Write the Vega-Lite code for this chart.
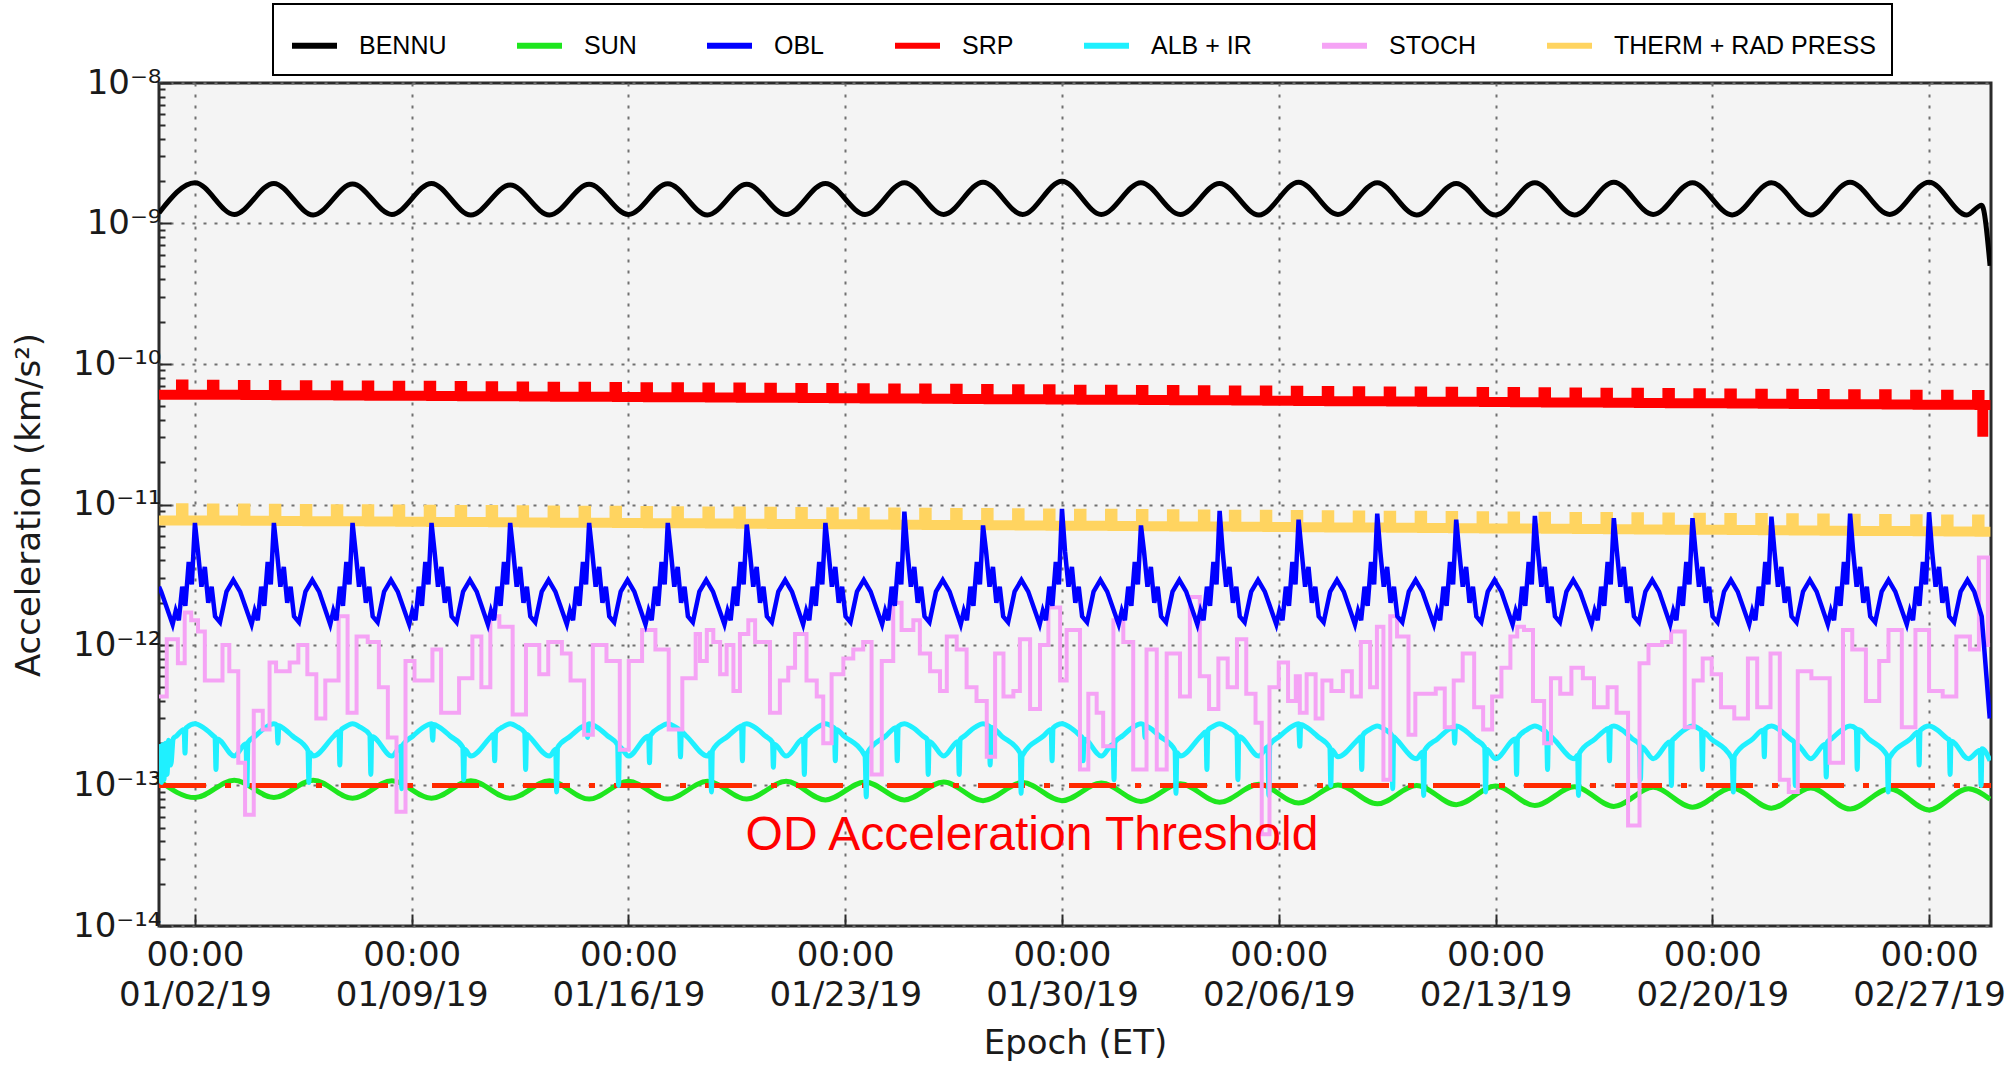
{
"$schema":"https://vega.github.io/schema/vega-lite/v6.json",
"width":1832,"height":843,
"autosize":{"type":"none"},
"padding":{"left":159,"top":83,"right":19,"bottom":141},
"background":"#ffffff",
"config":{
"view":{"fill":"#f4f4f4","stroke":"#2b2b2b","strokeWidth":3},
"axis":{"domain":false,"labelFont":"DejaVu Sans","titleFont":"DejaVu Sans","labelColor":"#1a1a1a","titleColor":"#1a1a1a","titleFontWeight":"normal","labelFontSize":34,"titleFontSize":34,"gridColor":"#707070","gridDash":[3,8],"gridWidth":2,"tickColor":"#2b2b2b","tickWidth":2,"labelOverlap":false},
"legend":{"strokeWidth":2}
},
"encoding":{
"x":{"field":"d","type":"quantitative","scale":{"domain":[-0.16,59],"nice":false,"zero":false},
"axis":{"title":"Epoch (ET)","values":[1,8,15,22,29,36,43,50,57],"labelExpr":"['00:00', utcFormat(utc(2019,0,1+datum.value),'%m/%d/%y')]","labelLineHeight":40,"labelPadding":24,"tickSize":-12,"titlePadding":14,"labelFlush":false}},
"y":{"field":"v","type":"quantitative","scale":{"type":"log","domain":[1e-14,1e-8],"nice":false},
"axis":{"title":"Acceleration (km/s²)","values":[1e-14,2e-14,3e-14,4e-14,5e-14,6e-14,7e-14,8e-14,9e-14,1e-13,2e-13,3e-13,4e-13,5e-13,6e-13,7e-13,8e-13,9e-13,1e-12,2e-12,3e-12,4e-12,5e-12,6e-12,7e-12,8e-12,9e-12,1e-11,2e-11,3e-11,4e-11,5e-11,6e-11,7e-11,8e-11,9e-11,1e-10,2e-10,3e-10,4e-10,5e-10,6e-10,7e-10,8e-10,9e-10,1e-9,2e-9,3e-9,4e-9,5e-9,6e-9,7e-9,8e-9,9e-9,1e-8],
"labelExpr":"abs(log(datum.value)/LN10 - round(log(datum.value)/LN10)) < 0.01 ? '10' + ['⁻¹⁴','⁻¹³','⁻¹²','⁻¹¹','⁻¹⁰','⁻⁹','⁻⁸'][round(log(datum.value)/LN10)+14] : ''",
"tickSize":{"condition":{"test":"abs(log(datum.value)/LN10 - round(log(datum.value)/LN10)) < 0.01","value":-12},"value":-6},
"gridOpacity":{"condition":{"test":"abs(log(datum.value)/LN10 - round(log(datum.value)/LN10)) < 0.01","value":1},"value":0},
"labelPadding":10,"titlePadding":26}}
},
"datasets":{
"bennu":[{"d":-0.16,"v":1.19e-9},{"d":1,"v":1.95e-9},{"d":2.27,"v":1.16e-9},{"d":3.55,"v":1.93e-9},{"d":4.82,"v":1.15e-9},{"d":6.09,"v":1.91e-9},{"d":7.36,"v":1.16e-9},{"d":8.64,"v":1.93e-9},{"d":9.91,"v":1.15e-9},{"d":11.18,"v":1.88e-9},{"d":12.45,"v":1.15e-9},{"d":13.73,"v":1.9e-9},{"d":15,"v":1.16e-9},{"d":16.27,"v":1.92e-9},{"d":17.55,"v":1.15e-9},{"d":18.82,"v":1.9e-9},{"d":20.09,"v":1.16e-9},{"d":21.36,"v":1.93e-9},{"d":22.64,"v":1.16e-9},{"d":23.91,"v":1.95e-9},{"d":25.18,"v":1.16e-9},{"d":26.45,"v":1.97e-9},{"d":27.73,"v":1.16e-9},{"d":29,"v":2e-9},{"d":30.27,"v":1.16e-9},{"d":31.55,"v":1.95e-9},{"d":32.82,"v":1.16e-9},{"d":34.09,"v":1.93e-9},{"d":35.36,"v":1.15e-9},{"d":36.64,"v":1.97e-9},{"d":37.91,"v":1.16e-9},{"d":39.18,"v":1.95e-9},{"d":40.45,"v":1.15e-9},{"d":41.73,"v":1.93e-9},{"d":43,"v":1.15e-9},{"d":44.27,"v":1.95e-9},{"d":45.55,"v":1.15e-9},{"d":46.82,"v":1.97e-9},{"d":48.09,"v":1.16e-9},{"d":49.36,"v":1.95e-9},{"d":50.64,"v":1.15e-9},{"d":51.91,"v":1.95e-9},{"d":53.18,"v":1.15e-9},{"d":54.45,"v":1.97e-9},{"d":55.73,"v":1.16e-9},{"d":57,"v":1.97e-9},{"d":58.22,"v":1.15e-9},{"d":58.7,"v":1.35e-9},{"d":58.97,"v":5e-10}],
"sun":[{"d":-0.16,"v":1.08e-13},{"d":1,"v":8.2e-14},{"d":2.27,"v":1.09e-13},{"d":3.55,"v":8.2e-14},{"d":4.82,"v":1.09e-13},{"d":6.09,"v":8.1e-14},{"d":7.36,"v":1.08e-13},{"d":8.64,"v":8.1e-14},{"d":9.91,"v":1.08e-13},{"d":11.18,"v":8.1e-14},{"d":12.45,"v":1.08e-13},{"d":13.73,"v":8e-14},{"d":15,"v":1.07e-13},{"d":16.27,"v":8e-14},{"d":17.55,"v":1.07e-13},{"d":18.82,"v":8e-14},{"d":20.09,"v":1.07e-13},{"d":21.36,"v":7.9e-14},{"d":22.64,"v":1.06e-13},{"d":23.91,"v":7.9e-14},{"d":25.18,"v":1.06e-13},{"d":26.45,"v":7.8e-14},{"d":27.73,"v":1.05e-13},{"d":29,"v":7.8e-14},{"d":30.27,"v":1.04e-13},{"d":31.55,"v":7.7e-14},{"d":32.82,"v":1.03e-13},{"d":34.09,"v":7.6e-14},{"d":35.36,"v":1.02e-13},{"d":36.64,"v":7.5e-14},{"d":37.91,"v":1.01e-13},{"d":39.18,"v":7.4e-14},{"d":40.45,"v":1e-13},{"d":41.73,"v":7.3e-14},{"d":43,"v":9.9e-14},{"d":44.27,"v":7.2e-14},{"d":45.55,"v":9.8e-14},{"d":46.82,"v":7.1e-14},{"d":48.09,"v":9.7e-14},{"d":49.36,"v":7e-14},{"d":50.64,"v":9.6e-14},{"d":51.91,"v":6.9e-14},{"d":53.18,"v":9.6e-14},{"d":54.45,"v":6.8e-14},{"d":55.73,"v":9.5e-14},{"d":57,"v":6.7e-14},{"d":58.27,"v":9.5e-14},{"d":58.97,"v":8e-14}],
"obl":[{"d":-0.16,"v":2.6e-12},{"d":-0.09,"v":2.4e-12},
{"d":0.28,"v":1.4e-12},{"d":0.38,"v":1.75e-12},{"d":0.48,"v":1.5e-12},{"d":0.59,"v":2.6e-12},{"d":0.69,"v":1.9e-12},{"d":0.8,"v":3.9e-12},{"d":0.9,"v":2.7e-12},{"d":1,"v":7.4e-12},{"d":1.1,"v":4.6e-12},{"d":1.21,"v":2.6e-12},{"d":1.32,"v":3.6e-12},{"d":1.43,"v":2e-12},{"d":1.54,"v":2.6e-12},{"d":1.65,"v":1.6e-12},{"d":1.81,"v":1.45e-12},{"d":2.02,"v":2.4e-12},{"d":2.24,"v":2.9e-12},{"d":2.46,"v":2.4e-12},
{"d":2.83,"v":1.4e-12},{"d":2.93,"v":1.75e-12},{"d":3.03,"v":1.5e-12},{"d":3.14,"v":2.6e-12},{"d":3.24,"v":1.9e-12},{"d":3.35,"v":3.9e-12},{"d":3.45,"v":2.7e-12},{"d":3.55,"v":7.4e-12},{"d":3.65,"v":4.6e-12},{"d":3.76,"v":2.6e-12},{"d":3.87,"v":3.6e-12},{"d":3.98,"v":2e-12},{"d":4.09,"v":2.6e-12},{"d":4.2,"v":1.6e-12},{"d":4.36,"v":1.45e-12},{"d":4.57,"v":2.4e-12},{"d":4.79,"v":2.9e-12},{"d":5.01,"v":2.4e-12},
{"d":5.37,"v":1.4e-12},{"d":5.47,"v":1.75e-12},{"d":5.57,"v":1.5e-12},{"d":5.68,"v":2.6e-12},{"d":5.78,"v":1.9e-12},{"d":5.89,"v":3.9e-12},{"d":5.99,"v":2.7e-12},{"d":6.09,"v":7.4e-12},{"d":6.19,"v":4.6e-12},{"d":6.3,"v":2.6e-12},{"d":6.41,"v":3.6e-12},{"d":6.52,"v":2e-12},{"d":6.63,"v":2.6e-12},{"d":6.74,"v":1.6e-12},{"d":6.9,"v":1.45e-12},{"d":7.11,"v":2.4e-12},{"d":7.33,"v":2.9e-12},{"d":7.55,"v":2.4e-12},
{"d":7.92,"v":1.4e-12},{"d":8.02,"v":1.75e-12},{"d":8.12,"v":1.5e-12},{"d":8.23,"v":2.6e-12},{"d":8.33,"v":1.9e-12},{"d":8.44,"v":3.9e-12},{"d":8.54,"v":2.7e-12},{"d":8.64,"v":7.4e-12},{"d":8.74,"v":4.6e-12},{"d":8.85,"v":2.6e-12},{"d":8.96,"v":3.6e-12},{"d":9.07,"v":2e-12},{"d":9.18,"v":2.6e-12},{"d":9.29,"v":1.6e-12},{"d":9.45,"v":1.45e-12},{"d":9.66,"v":2.4e-12},{"d":9.88,"v":2.9e-12},{"d":10.1,"v":2.4e-12},
{"d":10.46,"v":1.4e-12},{"d":10.56,"v":1.75e-12},{"d":10.66,"v":1.5e-12},{"d":10.77,"v":2.6e-12},{"d":10.87,"v":1.9e-12},{"d":10.98,"v":3.9e-12},{"d":11.08,"v":2.7e-12},{"d":11.18,"v":7.4e-12},{"d":11.28,"v":4.6e-12},{"d":11.39,"v":2.6e-12},{"d":11.5,"v":3.6e-12},{"d":11.61,"v":2e-12},{"d":11.72,"v":2.6e-12},{"d":11.83,"v":1.6e-12},{"d":11.99,"v":1.45e-12},{"d":12.2,"v":2.4e-12},{"d":12.42,"v":2.9e-12},{"d":12.64,"v":2.4e-12},
{"d":13.01,"v":1.4e-12},{"d":13.11,"v":1.75e-12},{"d":13.21,"v":1.5e-12},{"d":13.32,"v":2.6e-12},{"d":13.42,"v":1.9e-12},{"d":13.53,"v":3.9e-12},{"d":13.63,"v":2.7e-12},{"d":13.73,"v":7.4e-12},{"d":13.83,"v":4.6e-12},{"d":13.94,"v":2.6e-12},{"d":14.05,"v":3.6e-12},{"d":14.16,"v":2e-12},{"d":14.27,"v":2.6e-12},{"d":14.38,"v":1.6e-12},{"d":14.54,"v":1.45e-12},{"d":14.75,"v":2.4e-12},{"d":14.97,"v":2.9e-12},{"d":15.19,"v":2.4e-12},
{"d":15.55,"v":1.4e-12},{"d":15.65,"v":1.75e-12},{"d":15.75,"v":1.5e-12},{"d":15.86,"v":2.6e-12},{"d":15.96,"v":1.9e-12},{"d":16.07,"v":3.9e-12},{"d":16.17,"v":2.7e-12},{"d":16.27,"v":7.4e-12},{"d":16.37,"v":4.6e-12},{"d":16.48,"v":2.6e-12},{"d":16.59,"v":3.6e-12},{"d":16.7,"v":2e-12},{"d":16.81,"v":2.6e-12},{"d":16.92,"v":1.6e-12},{"d":17.08,"v":1.45e-12},{"d":17.29,"v":2.4e-12},{"d":17.51,"v":2.9e-12},{"d":17.73,"v":2.4e-12},
{"d":18.1,"v":1.4e-12},{"d":18.2,"v":1.75e-12},{"d":18.3,"v":1.5e-12},{"d":18.41,"v":2.6e-12},{"d":18.51,"v":1.9e-12},{"d":18.62,"v":3.9e-12},{"d":18.72,"v":2.7e-12},{"d":18.82,"v":7.2e-12},{"d":18.92,"v":4.6e-12},{"d":19.03,"v":2.6e-12},{"d":19.14,"v":3.6e-12},{"d":19.25,"v":2e-12},{"d":19.36,"v":2.6e-12},{"d":19.47,"v":1.6e-12},{"d":19.63,"v":1.45e-12},{"d":19.84,"v":2.4e-12},{"d":20.06,"v":2.9e-12},{"d":20.28,"v":2.4e-12},
{"d":20.64,"v":1.4e-12},{"d":20.74,"v":1.75e-12},{"d":20.84,"v":1.5e-12},{"d":20.95,"v":2.6e-12},{"d":21.05,"v":1.9e-12},{"d":21.16,"v":3.9e-12},{"d":21.26,"v":2.7e-12},{"d":21.36,"v":7.4e-12},{"d":21.46,"v":4.6e-12},{"d":21.57,"v":2.6e-12},{"d":21.68,"v":3.6e-12},{"d":21.79,"v":2e-12},{"d":21.9,"v":2.6e-12},{"d":22.01,"v":1.6e-12},{"d":22.17,"v":1.45e-12},{"d":22.38,"v":2.4e-12},{"d":22.6,"v":2.9e-12},{"d":22.82,"v":2.4e-12},
{"d":23.19,"v":1.4e-12},{"d":23.29,"v":1.75e-12},{"d":23.39,"v":1.5e-12},{"d":23.5,"v":2.6e-12},{"d":23.6,"v":1.9e-12},{"d":23.71,"v":3.9e-12},{"d":23.81,"v":2.7e-12},{"d":23.91,"v":8.9e-12},{"d":24.01,"v":4.6e-12},{"d":24.12,"v":2.6e-12},{"d":24.23,"v":3.6e-12},{"d":24.34,"v":2e-12},{"d":24.45,"v":2.6e-12},{"d":24.56,"v":1.6e-12},{"d":24.72,"v":1.45e-12},{"d":24.93,"v":2.4e-12},{"d":25.15,"v":2.9e-12},{"d":25.37,"v":2.4e-12},
{"d":25.73,"v":1.4e-12},{"d":25.83,"v":1.75e-12},{"d":25.93,"v":1.5e-12},{"d":26.04,"v":2.6e-12},{"d":26.14,"v":1.9e-12},{"d":26.25,"v":3.9e-12},{"d":26.35,"v":2.7e-12},{"d":26.45,"v":7.1e-12},{"d":26.55,"v":4.6e-12},{"d":26.66,"v":2.6e-12},{"d":26.77,"v":3.6e-12},{"d":26.88,"v":2e-12},{"d":26.99,"v":2.6e-12},{"d":27.1,"v":1.6e-12},{"d":27.26,"v":1.45e-12},{"d":27.47,"v":2.4e-12},{"d":27.69,"v":2.9e-12},{"d":27.91,"v":2.4e-12},
{"d":28.28,"v":1.4e-12},{"d":28.38,"v":1.75e-12},{"d":28.48,"v":1.5e-12},{"d":28.59,"v":2.6e-12},{"d":28.69,"v":1.9e-12},{"d":28.8,"v":3.9e-12},{"d":28.9,"v":2.7e-12},{"d":29,"v":9.3e-12},{"d":29.1,"v":4.6e-12},{"d":29.21,"v":2.6e-12},{"d":29.32,"v":3.6e-12},{"d":29.43,"v":2e-12},{"d":29.54,"v":2.6e-12},{"d":29.65,"v":1.6e-12},{"d":29.81,"v":1.45e-12},{"d":30.02,"v":2.4e-12},{"d":30.24,"v":2.9e-12},{"d":30.46,"v":2.4e-12},
{"d":30.83,"v":1.4e-12},{"d":30.93,"v":1.75e-12},{"d":31.03,"v":1.5e-12},{"d":31.14,"v":2.6e-12},{"d":31.24,"v":1.9e-12},{"d":31.35,"v":3.9e-12},{"d":31.45,"v":2.7e-12},{"d":31.55,"v":7.1e-12},{"d":31.65,"v":4.6e-12},{"d":31.76,"v":2.6e-12},{"d":31.87,"v":3.6e-12},{"d":31.98,"v":2e-12},{"d":32.09,"v":2.6e-12},{"d":32.2,"v":1.6e-12},{"d":32.36,"v":1.45e-12},{"d":32.57,"v":2.4e-12},{"d":32.79,"v":2.9e-12},{"d":33.01,"v":2.4e-12},
{"d":33.37,"v":1.4e-12},{"d":33.47,"v":1.75e-12},{"d":33.57,"v":1.5e-12},{"d":33.68,"v":2.6e-12},{"d":33.78,"v":1.9e-12},{"d":33.89,"v":3.9e-12},{"d":33.99,"v":2.7e-12},{"d":34.09,"v":9e-12},{"d":34.19,"v":4.6e-12},{"d":34.3,"v":2.6e-12},{"d":34.41,"v":3.6e-12},{"d":34.52,"v":2e-12},{"d":34.63,"v":2.6e-12},{"d":34.74,"v":1.6e-12},{"d":34.9,"v":1.45e-12},{"d":35.11,"v":2.4e-12},{"d":35.33,"v":2.9e-12},{"d":35.55,"v":2.4e-12},
{"d":35.92,"v":1.4e-12},{"d":36.02,"v":1.75e-12},{"d":36.12,"v":1.5e-12},{"d":36.23,"v":2.6e-12},{"d":36.33,"v":1.9e-12},{"d":36.44,"v":3.9e-12},{"d":36.54,"v":2.7e-12},{"d":36.64,"v":7.8e-12},{"d":36.74,"v":4.6e-12},{"d":36.85,"v":2.6e-12},{"d":36.96,"v":3.6e-12},{"d":37.07,"v":2e-12},{"d":37.18,"v":2.6e-12},{"d":37.29,"v":1.6e-12},{"d":37.45,"v":1.45e-12},{"d":37.66,"v":2.4e-12},{"d":37.88,"v":2.9e-12},{"d":38.1,"v":2.4e-12},
{"d":38.46,"v":1.4e-12},{"d":38.56,"v":1.75e-12},{"d":38.66,"v":1.5e-12},{"d":38.77,"v":2.6e-12},{"d":38.87,"v":1.9e-12},{"d":38.98,"v":3.9e-12},{"d":39.08,"v":2.7e-12},{"d":39.18,"v":8.6e-12},{"d":39.28,"v":4.6e-12},{"d":39.39,"v":2.6e-12},{"d":39.5,"v":3.6e-12},{"d":39.61,"v":2e-12},{"d":39.72,"v":2.6e-12},{"d":39.83,"v":1.6e-12},{"d":39.99,"v":1.45e-12},{"d":40.2,"v":2.4e-12},{"d":40.42,"v":2.9e-12},{"d":40.64,"v":2.4e-12},
{"d":41.01,"v":1.4e-12},{"d":41.11,"v":1.75e-12},{"d":41.21,"v":1.5e-12},{"d":41.32,"v":2.6e-12},{"d":41.42,"v":1.9e-12},{"d":41.53,"v":3.9e-12},{"d":41.63,"v":2.7e-12},{"d":41.73,"v":7.8e-12},{"d":41.83,"v":4.6e-12},{"d":41.94,"v":2.6e-12},{"d":42.05,"v":3.6e-12},{"d":42.16,"v":2e-12},{"d":42.27,"v":2.6e-12},{"d":42.38,"v":1.6e-12},{"d":42.54,"v":1.45e-12},{"d":42.75,"v":2.4e-12},{"d":42.97,"v":2.9e-12},{"d":43.19,"v":2.4e-12},
{"d":43.55,"v":1.4e-12},{"d":43.65,"v":1.75e-12},{"d":43.75,"v":1.5e-12},{"d":43.86,"v":2.6e-12},{"d":43.96,"v":1.9e-12},{"d":44.07,"v":3.9e-12},{"d":44.17,"v":2.7e-12},{"d":44.27,"v":8.3e-12},{"d":44.37,"v":4.6e-12},{"d":44.48,"v":2.6e-12},{"d":44.59,"v":3.6e-12},{"d":44.7,"v":2e-12},{"d":44.81,"v":2.6e-12},{"d":44.92,"v":1.6e-12},{"d":45.08,"v":1.45e-12},{"d":45.29,"v":2.4e-12},{"d":45.51,"v":2.9e-12},{"d":45.73,"v":2.4e-12},
{"d":46.1,"v":1.4e-12},{"d":46.2,"v":1.75e-12},{"d":46.3,"v":1.5e-12},{"d":46.41,"v":2.6e-12},{"d":46.51,"v":1.9e-12},{"d":46.62,"v":3.9e-12},{"d":46.72,"v":2.7e-12},{"d":46.82,"v":8e-12},{"d":46.92,"v":4.6e-12},{"d":47.03,"v":2.6e-12},{"d":47.14,"v":3.6e-12},{"d":47.25,"v":2e-12},{"d":47.36,"v":2.6e-12},{"d":47.47,"v":1.6e-12},{"d":47.63,"v":1.45e-12},{"d":47.84,"v":2.4e-12},{"d":48.06,"v":2.9e-12},{"d":48.28,"v":2.4e-12},
{"d":48.64,"v":1.4e-12},{"d":48.74,"v":1.75e-12},{"d":48.84,"v":1.5e-12},{"d":48.95,"v":2.6e-12},{"d":49.05,"v":1.9e-12},{"d":49.16,"v":3.9e-12},{"d":49.26,"v":2.7e-12},{"d":49.36,"v":8e-12},{"d":49.46,"v":4.6e-12},{"d":49.57,"v":2.6e-12},{"d":49.68,"v":3.6e-12},{"d":49.79,"v":2e-12},{"d":49.9,"v":2.6e-12},{"d":50.01,"v":1.6e-12},{"d":50.17,"v":1.45e-12},{"d":50.38,"v":2.4e-12},{"d":50.6,"v":2.9e-12},{"d":50.82,"v":2.4e-12},
{"d":51.19,"v":1.4e-12},{"d":51.29,"v":1.75e-12},{"d":51.39,"v":1.5e-12},{"d":51.5,"v":2.6e-12},{"d":51.6,"v":1.9e-12},{"d":51.71,"v":3.9e-12},{"d":51.81,"v":2.7e-12},{"d":51.91,"v":8.2e-12},{"d":52.01,"v":4.6e-12},{"d":52.12,"v":2.6e-12},{"d":52.23,"v":3.6e-12},{"d":52.34,"v":2e-12},{"d":52.45,"v":2.6e-12},{"d":52.56,"v":1.6e-12},{"d":52.72,"v":1.45e-12},{"d":52.93,"v":2.4e-12},{"d":53.15,"v":2.9e-12},{"d":53.37,"v":2.4e-12},
{"d":53.73,"v":1.4e-12},{"d":53.83,"v":1.75e-12},{"d":53.93,"v":1.5e-12},{"d":54.04,"v":2.6e-12},{"d":54.14,"v":1.9e-12},{"d":54.25,"v":3.9e-12},{"d":54.35,"v":2.7e-12},{"d":54.45,"v":8.6e-12},{"d":54.55,"v":4.6e-12},{"d":54.66,"v":2.6e-12},{"d":54.77,"v":3.6e-12},{"d":54.88,"v":2e-12},{"d":54.99,"v":2.6e-12},{"d":55.1,"v":1.6e-12},{"d":55.26,"v":1.45e-12},{"d":55.47,"v":2.4e-12},{"d":55.69,"v":2.9e-12},{"d":55.91,"v":2.4e-12},
{"d":56.28,"v":1.4e-12},{"d":56.38,"v":1.75e-12},{"d":56.48,"v":1.5e-12},{"d":56.59,"v":2.6e-12},{"d":56.69,"v":1.9e-12},{"d":56.8,"v":3.9e-12},{"d":56.9,"v":2.7e-12},{"d":57,"v":8.8e-12},{"d":57.1,"v":4.6e-12},{"d":57.21,"v":2.6e-12},{"d":57.32,"v":3.6e-12},{"d":57.43,"v":2e-12},{"d":57.54,"v":2.6e-12},{"d":57.65,"v":1.6e-12},{"d":57.81,"v":1.45e-12},{"d":58.02,"v":2.4e-12},{"d":58.24,"v":2.9e-12},{"d":58.46,"v":2.4e-12},
{"d":58.7,"v":1.6e-12},{"d":58.96,"v":3e-13}],
"srp":[{"d":-0.16,"v":6.05e-11},{"d":0.55,"v":7.14e-11},{"d":0.63,"v":6.05e-11},{"d":1.55,"v":7.12e-11},{"d":1.63,"v":6.03e-11},{"d":2.55,"v":7.1e-11},{"d":2.63,"v":6.02e-11},{"d":3.55,"v":7.08e-11},{"d":3.63,"v":6e-11},{"d":4.55,"v":7.06e-11},{"d":4.63,"v":5.98e-11},{"d":5.55,"v":7.04e-11},{"d":5.63,"v":5.97e-11},{"d":6.55,"v":7.02e-11},{"d":6.63,"v":5.95e-11},{"d":7.55,"v":7.01e-11},{"d":7.63,"v":5.94e-11},{"d":8.55,"v":6.99e-11},{"d":8.63,"v":5.92e-11},{"d":9.55,"v":6.96e-11},{"d":9.63,"v":5.9e-11},{"d":10.55,"v":6.95e-11},{"d":10.63,"v":5.89e-11},{"d":11.55,"v":6.93e-11},{"d":11.63,"v":5.87e-11},{"d":12.55,"v":6.9e-11},{"d":12.63,"v":5.85e-11},{"d":13.55,"v":6.89e-11},{"d":13.63,"v":5.84e-11},{"d":14.55,"v":6.87e-11},{"d":14.63,"v":5.82e-11},{"d":15.55,"v":6.84e-11},{"d":15.63,"v":5.8e-11},{"d":16.55,"v":6.83e-11},{"d":16.63,"v":5.79e-11},{"d":17.55,"v":6.81e-11},{"d":17.63,"v":5.77e-11},{"d":18.55,"v":6.8e-11},{"d":18.63,"v":5.76e-11},{"d":19.55,"v":6.77e-11},{"d":19.63,"v":5.74e-11},{"d":20.55,"v":6.75e-11},{"d":20.63,"v":5.72e-11},{"d":21.55,"v":6.74e-11},{"d":21.63,"v":5.71e-11},{"d":22.55,"v":6.71e-11},{"d":22.63,"v":5.69e-11},{"d":23.55,"v":6.69e-11},{"d":23.63,"v":5.67e-11},{"d":24.55,"v":6.68e-11},{"d":24.63,"v":5.66e-11},{"d":25.55,"v":6.66e-11},{"d":25.63,"v":5.64e-11},{"d":26.55,"v":6.63e-11},{"d":26.63,"v":5.62e-11},{"d":27.55,"v":6.62e-11},{"d":27.63,"v":5.61e-11},{"d":28.55,"v":6.6e-11},{"d":28.63,"v":5.59e-11},{"d":29.55,"v":6.57e-11},{"d":29.63,"v":5.57e-11},{"d":30.55,"v":6.56e-11},{"d":30.63,"v":5.56e-11},{"d":31.55,"v":6.54e-11},{"d":31.63,"v":5.54e-11},{"d":32.55,"v":6.53e-11},{"d":32.63,"v":5.53e-11},{"d":33.55,"v":6.5e-11},{"d":33.63,"v":5.51e-11},{"d":34.55,"v":6.48e-11},{"d":34.63,"v":5.49e-11},{"d":35.55,"v":6.47e-11},{"d":35.63,"v":5.48e-11},{"d":36.55,"v":6.44e-11},{"d":36.63,"v":5.46e-11},{"d":37.55,"v":6.42e-11},{"d":37.63,"v":5.44e-11},{"d":38.55,"v":6.41e-11},{"d":38.63,"v":5.43e-11},{"d":39.55,"v":6.38e-11},{"d":39.63,"v":5.41e-11},{"d":40.55,"v":6.36e-11},{"d":40.63,"v":5.39e-11},{"d":41.55,"v":6.35e-11},{"d":41.63,"v":5.38e-11},{"d":42.55,"v":6.32e-11},{"d":42.63,"v":5.36e-11},{"d":43.55,"v":6.31e-11},{"d":43.63,"v":5.35e-11},{"d":44.55,"v":6.29e-11},{"d":44.63,"v":5.33e-11},{"d":45.55,"v":6.27e-11},{"d":45.63,"v":5.31e-11},{"d":46.55,"v":6.25e-11},{"d":46.63,"v":5.3e-11},{"d":47.55,"v":6.23e-11},{"d":47.63,"v":5.28e-11},{"d":48.55,"v":6.21e-11},{"d":48.63,"v":5.26e-11},{"d":49.55,"v":6.2e-11},{"d":49.63,"v":5.25e-11},{"d":50.55,"v":6.17e-11},{"d":50.63,"v":5.23e-11},{"d":51.55,"v":6.15e-11},{"d":51.63,"v":5.21e-11},{"d":52.55,"v":6.14e-11},{"d":52.63,"v":5.2e-11},{"d":53.55,"v":6.11e-11},{"d":53.63,"v":5.18e-11},{"d":54.55,"v":6.09e-11},{"d":54.63,"v":5.16e-11},{"d":55.55,"v":6.08e-11},{"d":55.63,"v":5.15e-11},{"d":56.55,"v":6.05e-11},{"d":56.63,"v":5.13e-11},{"d":57.55,"v":6.04e-11},{"d":57.63,"v":5.12e-11},{"d":58.55,"v":6.02e-11},{"d":58.63,"v":5.1e-11},{"d":58.72,"v":3.3e-11},{"d":58.75,"v":5.1e-11},{"d":58.98,"v":5.1e-11}],
"therm":[{"d":-0.16,"v":7.7e-12},{"d":0.55,"v":9.39e-12},{"d":0.63,"v":7.7e-12},{"d":1.55,"v":9.37e-12},{"d":1.63,"v":7.68e-12},{"d":2.55,"v":9.35e-12},{"d":2.63,"v":7.66e-12},{"d":3.55,"v":9.31e-12},{"d":3.63,"v":7.63e-12},{"d":4.55,"v":9.28e-12},{"d":4.63,"v":7.61e-12},{"d":5.55,"v":9.26e-12},{"d":5.63,"v":7.59e-12},{"d":6.55,"v":9.24e-12},{"d":6.63,"v":7.57e-12},{"d":7.55,"v":9.2e-12},{"d":7.63,"v":7.54e-12},{"d":8.55,"v":9.17e-12},{"d":8.63,"v":7.52e-12},{"d":9.55,"v":9.15e-12},{"d":9.63,"v":7.5e-12},{"d":10.55,"v":9.13e-12},{"d":10.63,"v":7.48e-12},{"d":11.55,"v":9.09e-12},{"d":11.63,"v":7.45e-12},{"d":12.55,"v":9.06e-12},{"d":12.63,"v":7.43e-12},{"d":13.55,"v":9.04e-12},{"d":13.63,"v":7.41e-12},{"d":14.55,"v":9.02e-12},{"d":14.63,"v":7.39e-12},{"d":15.55,"v":8.98e-12},{"d":15.63,"v":7.36e-12},{"d":16.55,"v":8.95e-12},{"d":16.63,"v":7.34e-12},{"d":17.55,"v":8.93e-12},{"d":17.63,"v":7.32e-12},{"d":18.55,"v":8.91e-12},{"d":18.63,"v":7.3e-12},{"d":19.55,"v":8.87e-12},{"d":19.63,"v":7.27e-12},{"d":20.55,"v":8.85e-12},{"d":20.63,"v":7.25e-12},{"d":21.55,"v":8.82e-12},{"d":21.63,"v":7.23e-12},{"d":22.55,"v":8.8e-12},{"d":22.63,"v":7.21e-12},{"d":23.55,"v":8.76e-12},{"d":23.63,"v":7.18e-12},{"d":24.55,"v":8.74e-12},{"d":24.63,"v":7.16e-12},{"d":25.55,"v":8.71e-12},{"d":25.63,"v":7.14e-12},{"d":26.55,"v":8.69e-12},{"d":26.63,"v":7.12e-12},{"d":27.55,"v":8.65e-12},{"d":27.63,"v":7.09e-12},{"d":28.55,"v":8.63e-12},{"d":28.63,"v":7.07e-12},{"d":29.55,"v":8.6e-12},{"d":29.63,"v":7.05e-12},{"d":30.55,"v":8.58e-12},{"d":30.63,"v":7.03e-12},{"d":31.55,"v":8.55e-12},{"d":31.63,"v":7.01e-12},{"d":32.55,"v":8.52e-12},{"d":32.63,"v":6.98e-12},{"d":33.55,"v":8.49e-12},{"d":33.63,"v":6.96e-12},{"d":34.55,"v":8.47e-12},{"d":34.63,"v":6.94e-12},{"d":35.55,"v":8.44e-12},{"d":35.63,"v":6.92e-12},{"d":36.55,"v":8.41e-12},{"d":36.63,"v":6.89e-12},{"d":37.55,"v":8.38e-12},{"d":37.63,"v":6.87e-12},{"d":38.55,"v":8.36e-12},{"d":38.63,"v":6.85e-12},{"d":39.55,"v":8.33e-12},{"d":39.63,"v":6.83e-12},{"d":40.55,"v":8.3e-12},{"d":40.63,"v":6.8e-12},{"d":41.55,"v":8.27e-12},{"d":41.63,"v":6.78e-12},{"d":42.55,"v":8.25e-12},{"d":42.63,"v":6.76e-12},{"d":43.55,"v":8.22e-12},{"d":43.63,"v":6.74e-12},{"d":44.55,"v":8.19e-12},{"d":44.63,"v":6.71e-12},{"d":45.55,"v":8.16e-12},{"d":45.63,"v":6.69e-12},{"d":46.55,"v":8.14e-12},{"d":46.63,"v":6.67e-12},{"d":47.55,"v":8.11e-12},{"d":47.63,"v":6.65e-12},{"d":48.55,"v":8.08e-12},{"d":48.63,"v":6.62e-12},{"d":49.55,"v":8.05e-12},{"d":49.63,"v":6.6e-12},{"d":50.55,"v":8.03e-12},{"d":50.63,"v":6.58e-12},{"d":51.55,"v":8e-12},{"d":51.63,"v":6.56e-12},{"d":52.55,"v":7.97e-12},{"d":52.63,"v":6.53e-12},{"d":53.55,"v":7.94e-12},{"d":53.63,"v":6.51e-12},{"d":54.55,"v":7.92e-12},{"d":54.63,"v":6.49e-12},{"d":55.55,"v":7.89e-12},{"d":55.63,"v":6.47e-12},{"d":56.55,"v":7.86e-12},{"d":56.63,"v":6.44e-12},{"d":57.55,"v":7.83e-12},{"d":57.63,"v":6.42e-12},{"d":58.55,"v":7.81e-12},{"d":58.63,"v":6.4e-12},{"d":58.98,"v":6.4e-12}],
"alb":[{"d":-0.16,"v":1.2e-13},{"d":-0.12,"v":1.9e-13},{"d":-0.08,"v":1.05e-13},{"d":-0.04,"v":1.95e-13},{"d":0,"v":1.1e-13},{"d":0.05,"v":2e-13},{"d":0.1,"v":1.2e-13},{"d":0.15,"v":2.1e-13},{"d":0.22,"v":1.4e-13},{"d":0.3,"v":2.15e-13},{"d":0.4,"v":2.25e-13},
{"d":0.65,"v":2.5e-13},{"d":0.68,"v":1.7e-13},{"d":0.71,"v":2.55e-13},{"d":0.75,"v":2.6e-13},{"d":1,"v":2.75e-13},{"d":1.25,"v":2.6e-13},{"d":1.6,"v":2.25e-13},
{"d":1.65,"v":2.2e-13},{"d":1.68,"v":1.3e-13},{"d":1.71,"v":2.15e-13},{"d":2.27,"v":1.62e-13},
{"d":2.65,"v":1.98e-13},{"d":2.68,"v":1e-13},{"d":2.71,"v":2.02e-13},{"d":2.95,"v":2.25e-13},{"d":3.3,"v":2.6e-13},{"d":3.55,"v":2.75e-13},
{"d":3.65,"v":2.68e-13},{"d":3.68,"v":2e-13},{"d":3.71,"v":2.66e-13},{"d":3.8,"v":2.6e-13},{"d":4.15,"v":2.25e-13},
{"d":4.65,"v":1.78e-13},{"d":4.68,"v":1.05e-13},{"d":4.71,"v":1.72e-13},{"d":4.82,"v":1.62e-13},{"d":5.49,"v":2.25e-13},
{"d":5.65,"v":2.42e-13},{"d":5.68,"v":1.4e-13},{"d":5.71,"v":2.47e-13},{"d":5.84,"v":2.6e-13},{"d":6.09,"v":2.75e-13},{"d":6.34,"v":2.6e-13},
{"d":6.65,"v":2.29e-13},{"d":6.68,"v":1.2e-13},{"d":6.71,"v":2.23e-13},{"d":7.36,"v":1.62e-13},
{"d":7.65,"v":1.9e-13},{"d":7.68,"v":9.5e-14},{"d":7.71,"v":1.94e-13},{"d":8.04,"v":2.25e-13},{"d":8.39,"v":2.6e-13},{"d":8.64,"v":2.75e-13},
{"d":8.68,"v":2.1e-13},{"d":8.71,"v":2.72e-13},{"d":8.89,"v":2.6e-13},{"d":9.24,"v":2.25e-13},
{"d":9.65,"v":1.87e-13},{"d":9.68,"v":1.1e-13},{"d":9.71,"v":1.81e-13},{"d":9.91,"v":1.62e-13},{"d":10.58,"v":2.25e-13},
{"d":10.65,"v":2.32e-13},{"d":10.68,"v":1.5e-13},{"d":10.71,"v":2.38e-13},{"d":10.93,"v":2.6e-13},{"d":11.18,"v":2.75e-13},{"d":11.43,"v":2.6e-13},
{"d":11.65,"v":2.38e-13},{"d":11.68,"v":1.3e-13},{"d":11.71,"v":2.32e-13},{"d":11.78,"v":2.25e-13},{"d":12.45,"v":1.62e-13},
{"d":12.65,"v":1.81e-13},{"d":12.68,"v":9e-14},{"d":12.71,"v":1.86e-13},{"d":13.13,"v":2.25e-13},{"d":13.48,"v":2.6e-13},
{"d":13.65,"v":2.7e-13},{"d":13.68,"v":2.2e-13},{"d":13.71,"v":2.74e-13},{"d":13.73,"v":2.75e-13},{"d":13.98,"v":2.6e-13},{"d":14.33,"v":2.25e-13},
{"d":14.65,"v":1.95e-13},{"d":14.68,"v":1e-13},{"d":14.71,"v":1.89e-13},{"d":15,"v":1.62e-13},
{"d":15.65,"v":2.24e-13},{"d":15.68,"v":1.45e-13},{"d":15.71,"v":2.27e-13},{"d":16.02,"v":2.6e-13},{"d":16.27,"v":2.75e-13},{"d":16.52,"v":2.6e-13},
{"d":16.65,"v":2.47e-13},{"d":16.68,"v":1.6e-13},{"d":16.71,"v":2.41e-13},{"d":16.87,"v":2.25e-13},{"d":17.55,"v":1.62e-13},
{"d":17.65,"v":1.72e-13},{"d":17.68,"v":9e-14},{"d":17.71,"v":1.77e-13},{"d":18.22,"v":2.25e-13},{"d":18.57,"v":2.6e-13},
{"d":18.65,"v":2.65e-13},{"d":18.68,"v":1.5e-13},{"d":18.71,"v":2.7e-13},{"d":18.82,"v":2.75e-13},{"d":19.07,"v":2.6e-13},{"d":19.42,"v":2.25e-13},
{"d":19.65,"v":2.03e-13},{"d":19.68,"v":1.35e-13},{"d":19.71,"v":1.97e-13},{"d":20.09,"v":1.62e-13},
{"d":20.65,"v":2.14e-13},{"d":20.68,"v":1.2e-13},{"d":20.71,"v":2.19e-13},{"d":20.76,"v":2.25e-13},{"d":21.11,"v":2.6e-13},{"d":21.36,"v":2.75e-13},{"d":21.61,"v":2.6e-13},
{"d":21.65,"v":2.56e-13},{"d":21.68,"v":1.5e-13},{"d":21.71,"v":2.5e-13},{"d":21.96,"v":2.25e-13},
{"d":22.64,"v":1.62e-13},{"d":22.68,"v":8.3e-14},{"d":22.71,"v":1.7e-13},{"d":23.31,"v":2.25e-13},
{"d":23.65,"v":2.59e-13},{"d":23.68,"v":1.5e-13},{"d":23.71,"v":2.63e-13},{"d":23.91,"v":2.75e-13},{"d":24.16,"v":2.6e-13},{"d":24.51,"v":2.25e-13},
{"d":24.65,"v":2.12e-13},{"d":24.68,"v":1.2e-13},{"d":24.71,"v":2.06e-13},{"d":25.18,"v":1.62e-13},
{"d":25.65,"v":2.06e-13},{"d":25.68,"v":1.2e-13},{"d":25.71,"v":2.12e-13},{"d":25.85,"v":2.25e-13},{"d":26.2,"v":2.6e-13},{"d":26.45,"v":2.75e-13},
{"d":26.65,"v":2.63e-13},{"d":26.68,"v":1.4e-13},{"d":26.71,"v":2.6e-13},{"d":27.05,"v":2.25e-13},
{"d":27.65,"v":1.7e-13},{"d":27.68,"v":8.8e-14},{"d":27.71,"v":1.62e-13},{"d":28.4,"v":2.25e-13},
{"d":28.65,"v":2.5e-13},{"d":28.68,"v":1.5e-13},{"d":28.71,"v":2.56e-13},{"d":29,"v":2.75e-13},{"d":29.25,"v":2.6e-13},{"d":29.6,"v":2.25e-13},
{"d":29.65,"v":2.2e-13},{"d":29.68,"v":1.5e-13},{"d":29.71,"v":2.14e-13},{"d":30.27,"v":1.62e-13},
{"d":30.65,"v":1.97e-13},{"d":30.68,"v":1.1e-13},{"d":30.71,"v":2.03e-13},{"d":30.95,"v":2.25e-13},{"d":31.3,"v":2.6e-13},{"d":31.55,"v":2.75e-13},
{"d":31.65,"v":2.69e-13},{"d":31.68,"v":2.2e-13},{"d":31.71,"v":2.65e-13},{"d":31.8,"v":2.6e-13},{"d":32.15,"v":2.25e-13},
{"d":32.65,"v":1.78e-13},{"d":32.68,"v":8.8e-14},{"d":32.71,"v":1.72e-13},{"d":32.82,"v":1.62e-13},{"d":33.49,"v":2.25e-13},
{"d":33.65,"v":2.41e-13},{"d":33.68,"v":1.3e-13},{"d":33.71,"v":2.47e-13},{"d":33.84,"v":2.6e-13},{"d":34.09,"v":2.75e-13},{"d":34.34,"v":2.6e-13},
{"d":34.65,"v":2.29e-13},{"d":34.68,"v":1.1e-13},{"d":34.71,"v":2.23e-13},{"d":35.36,"v":1.62e-13},
{"d":35.65,"v":1.89e-13},{"d":35.68,"v":8.5e-14},{"d":35.71,"v":1.95e-13},{"d":36.04,"v":2.25e-13},{"d":36.39,"v":2.6e-13},{"d":36.64,"v":2.75e-13},
{"d":36.68,"v":1.9e-13},{"d":36.71,"v":2.72e-13},{"d":36.89,"v":2.6e-13},{"d":37.24,"v":2.25e-13},
{"d":37.65,"v":1.86e-13},{"d":37.68,"v":1e-13},{"d":37.71,"v":1.8e-13},{"d":37.91,"v":1.6e-13},{"d":38.58,"v":2.15e-13},
{"d":38.65,"v":2.22e-13},{"d":38.68,"v":1.3e-13},{"d":38.71,"v":2.28e-13},{"d":38.93,"v":2.5e-13},{"d":39.18,"v":2.65e-13},{"d":39.43,"v":2.5e-13},
{"d":39.65,"v":2.28e-13},{"d":39.68,"v":9.5e-14},{"d":39.71,"v":2.22e-13},{"d":39.78,"v":2.15e-13},{"d":40.45,"v":1.55e-13},
{"d":40.65,"v":1.73e-13},{"d":40.68,"v":8.5e-14},{"d":40.71,"v":1.78e-13},{"d":41.13,"v":2.15e-13},{"d":41.48,"v":2.5e-13},
{"d":41.65,"v":2.6e-13},{"d":41.68,"v":2e-13},{"d":41.71,"v":2.64e-13},{"d":41.73,"v":2.65e-13},{"d":41.98,"v":2.5e-13},{"d":42.33,"v":2.15e-13},
{"d":42.65,"v":1.87e-13},{"d":42.68,"v":9e-14},{"d":42.71,"v":1.81e-13},{"d":43,"v":1.55e-13},
{"d":43.65,"v":2.14e-13},{"d":43.68,"v":1.2e-13},{"d":43.71,"v":2.17e-13},{"d":44.02,"v":2.5e-13},{"d":44.27,"v":2.65e-13},{"d":44.52,"v":2.5e-13},
{"d":44.65,"v":2.37e-13},{"d":44.68,"v":1.3e-13},{"d":44.71,"v":2.31e-13},{"d":44.87,"v":2.15e-13},{"d":45.55,"v":1.55e-13},
{"d":45.65,"v":1.64e-13},{"d":45.68,"v":8.5e-14},{"d":45.71,"v":1.7e-13},{"d":46.22,"v":2.15e-13},{"d":46.57,"v":2.5e-13},
{"d":46.65,"v":2.55e-13},{"d":46.68,"v":1.5e-13},{"d":46.71,"v":2.6e-13},{"d":46.82,"v":2.65e-13},{"d":47.07,"v":2.5e-13},{"d":47.42,"v":2.15e-13},
{"d":47.65,"v":1.95e-13},{"d":47.68,"v":1.1e-13},{"d":47.71,"v":1.89e-13},{"d":48.09,"v":1.55e-13},
{"d":48.65,"v":2.05e-13},{"d":48.68,"v":1e-13},{"d":48.71,"v":2.1e-13},{"d":48.76,"v":2.15e-13},{"d":49.11,"v":2.5e-13},{"d":49.36,"v":2.65e-13},{"d":49.61,"v":2.5e-13},
{"d":49.65,"v":2.46e-13},{"d":49.68,"v":1.3e-13},{"d":49.71,"v":2.4e-13},{"d":49.96,"v":2.15e-13},
{"d":50.64,"v":1.55e-13},{"d":50.68,"v":9e-14},{"d":50.71,"v":1.62e-13},{"d":51.31,"v":2.15e-13},
{"d":51.65,"v":2.48e-13},{"d":51.68,"v":1.6e-13},{"d":51.71,"v":2.53e-13},{"d":51.91,"v":2.65e-13},{"d":52.16,"v":2.5e-13},{"d":52.51,"v":2.15e-13},
{"d":52.65,"v":2.03e-13},{"d":52.68,"v":1e-13},{"d":52.71,"v":1.97e-13},{"d":53.18,"v":1.55e-13},
{"d":53.65,"v":1.97e-13},{"d":53.68,"v":1.15e-13},{"d":53.71,"v":2.03e-13},{"d":53.85,"v":2.15e-13},{"d":54.2,"v":2.5e-13},{"d":54.45,"v":2.65e-13},
{"d":54.65,"v":2.53e-13},{"d":54.68,"v":1.3e-13},{"d":54.71,"v":2.5e-13},{"d":55.05,"v":2.15e-13},
{"d":55.65,"v":1.63e-13},{"d":55.68,"v":9e-14},{"d":55.71,"v":1.56e-13},{"d":56.4,"v":2.15e-13},
{"d":56.65,"v":2.4e-13},{"d":56.68,"v":1.4e-13},{"d":56.71,"v":2.46e-13},{"d":57,"v":2.65e-13},{"d":57.25,"v":2.5e-13},{"d":57.6,"v":2.15e-13},
{"d":57.65,"v":2.12e-13},{"d":57.68,"v":1.2e-13},{"d":57.71,"v":2.07e-13},{"d":58.27,"v":1.55e-13},
{"d":58.65,"v":1.78e-13},{"d":58.68,"v":1e-13},{"d":58.71,"v":1.83e-13},{"d":58.97,"v":1.5e-13}],
"stoch":[{"d":-0.16,"v":4.3e-13},{"d":0.09,"v":1.1e-12},{"d":0.45,"v":7.4e-13},{"d":0.67,"v":1.7e-12},{"d":0.88,"v":1.5e-12},{"d":1.1,"v":1.25e-12},{"d":1.32,"v":5.6e-13},{"d":1.89,"v":1e-12},{"d":2.11,"v":6.5e-13},{"d":2.4,"v":1.45e-13},{"d":2.62,"v":6.2e-14},{"d":2.9,"v":3.4e-13},{"d":3.19,"v":2.5e-13},{"d":3.41,"v":7.5e-13},{"d":3.62,"v":6.5e-13},{"d":4.06,"v":7.5e-13},{"d":4.34,"v":1e-12},{"d":4.63,"v":6.2e-13},{"d":4.92,"v":3e-13},{"d":5.21,"v":5.6e-13},{"d":5.64,"v":1.6e-12},{"d":5.93,"v":3.3e-13},{"d":6.22,"v":1.15e-12},{"d":6.58,"v":1.05e-12},{"d":6.94,"v":5e-13},{"d":7.23,"v":2.2e-13},{"d":7.51,"v":6.5e-14},{"d":7.8,"v":7.7e-13},{"d":8.09,"v":5.6e-13},{"d":8.67,"v":9.3e-13},{"d":8.95,"v":3.3e-13},{"d":9.53,"v":5.8e-13},{"d":9.96,"v":1.15e-12},{"d":10.25,"v":5e-13},{"d":10.54,"v":1.6e-12},{"d":10.83,"v":1.35e-12},{"d":11.26,"v":3.2e-13},{"d":11.69,"v":1e-12},{"d":12.12,"v":6.2e-13},{"d":12.41,"v":1.05e-12},{"d":12.85,"v":8.7e-13},{"d":13.13,"v":5.6e-13},{"d":13.57,"v":2.3e-13},{"d":13.85,"v":1e-12},{"d":14.29,"v":7.7e-13},{"d":14.72,"v":1.8e-13},{"d":15.01,"v":7.7e-13},{"d":15.44,"v":1.28e-12},{"d":15.87,"v":9.3e-13},{"d":16.3,"v":2.5e-13},{"d":16.74,"v":5.8e-13},{"d":17.17,"v":1.2e-12},{"d":17.31,"v":7.7e-13},{"d":17.53,"v":1.28e-12},{"d":17.74,"v":1.05e-12},{"d":17.96,"v":6.2e-13},{"d":18.17,"v":1e-12},{"d":18.39,"v":4.7e-13},{"d":18.6,"v":1.2e-12},{"d":18.87,"v":1.5e-12},{"d":19.09,"v":1.05e-12},{"d":19.57,"v":3.3e-13},{"d":19.89,"v":5.6e-13},{"d":20.16,"v":6.9e-13},{"d":20.38,"v":1.2e-12},{"d":20.75,"v":5.6e-13},{"d":21.08,"v":4.3e-13},{"d":21.29,"v":2e-13},{"d":21.56,"v":6.2e-13},{"d":21.94,"v":8e-13},{"d":22.26,"v":9.3e-13},{"d":22.58,"v":1.05e-12},{"d":22.85,"v":1.2e-13},{"d":23.18,"v":7.7e-13},{"d":23.55,"v":2e-12},{"d":23.82,"v":1.28e-12},{"d":24.2,"v":1.5e-12},{"d":24.41,"v":8.7e-13},{"d":24.74,"v":6.5e-13},{"d":25.06,"v":4.7e-13},{"d":25.28,"v":1.15e-12},{"d":25.6,"v":9.3e-13},{"d":25.92,"v":5e-13},{"d":26.24,"v":4e-13},{"d":26.57,"v":1.6e-13},{"d":26.84,"v":8.7e-13},{"d":27.11,"v":4.3e-13},{"d":27.43,"v":4.7e-13},{"d":27.64,"v":1.1e-12},{"d":27.97,"v":3.5e-13},{"d":28.29,"v":1e-12},{"d":28.56,"v":1.85e-12},{"d":28.94,"v":5.6e-13},{"d":29.15,"v":1.28e-12},{"d":29.58,"v":1.3e-13},{"d":29.85,"v":4.5e-13},{"d":30.12,"v":3.3e-13},{"d":30.33,"v":1.9e-13},{"d":30.66,"v":1.5e-12},{"d":30.98,"v":1.05e-12},{"d":31.3,"v":1.3e-13},{"d":31.73,"v":9.3e-13},{"d":32.06,"v":1.3e-13},{"d":32.38,"v":8.7e-13},{"d":32.81,"v":4.3e-13},{"d":33.13,"v":2.2e-12},{"d":33.45,"v":6e-13},{"d":33.75,"v":3.5e-13},{"d":34.05,"v":8e-13},{"d":34.35,"v":5e-13},{"d":34.65,"v":1.1e-12},{"d":34.95,"v":4.5e-13},{"d":35.25,"v":2.8e-13},{"d":35.45,"v":4.5e-14},{"d":35.7,"v":5e-13},{"d":36,"v":7.5e-13},{"d":36.3,"v":4e-13},{"d":36.55,"v":6e-13},{"d":36.68,"v":3.3e-13},{"d":36.9,"v":6.2e-13},{"d":37.19,"v":3e-13},{"d":37.41,"v":5.6e-13},{"d":37.7,"v":4.7e-13},{"d":38.07,"v":6.5e-13},{"d":38.36,"v":4.3e-13},{"d":38.65,"v":1.05e-12},{"d":38.95,"v":5e-13},{"d":39.17,"v":1.35e-12},{"d":39.38,"v":1.1e-13},{"d":39.6,"v":1.6e-12},{"d":39.82,"v":1.15e-12},{"d":40.19,"v":2.3e-13},{"d":40.41,"v":4.5e-13},{"d":41.07,"v":4.9e-13},{"d":41.36,"v":2.6e-13},{"d":41.65,"v":5.6e-13},{"d":41.94,"v":8.7e-13},{"d":42.31,"v":3.6e-13},{"d":42.6,"v":2.5e-13},{"d":42.89,"v":4.3e-13},{"d":43.19,"v":6.9e-13},{"d":43.48,"v":1.15e-12},{"d":43.7,"v":1.35e-12},{"d":43.92,"v":1.28e-12},{"d":44.21,"v":4e-13},{"d":44.57,"v":2e-13},{"d":44.79,"v":5.8e-13},{"d":45.09,"v":4.5e-13},{"d":45.45,"v":6.9e-13},{"d":45.82,"v":5.8e-13},{"d":46.18,"v":3.6e-13},{"d":46.62,"v":5e-13},{"d":46.91,"v":3.3e-13},{"d":47.28,"v":5.2e-14},{"d":47.65,"v":7.4e-13},{"d":47.94,"v":1e-12},{"d":48.38,"v":1.05e-12},{"d":48.67,"v":1.25e-12},{"d":49.11,"v":2.6e-13},{"d":49.4,"v":5.6e-13},{"d":49.69,"v":8e-13},{"d":49.98,"v":6.2e-13},{"d":50.28,"v":3.6e-13},{"d":50.71,"v":3e-13},{"d":51.15,"v":8e-13},{"d":51.45,"v":3.6e-13},{"d":51.88,"v":8.7e-13},{"d":52.18,"v":1.1e-13},{"d":52.47,"v":9e-14},{"d":52.76,"v":6.5e-13},{"d":53.2,"v":5.8e-13},{"d":53.79,"v":1.45e-13},{"d":54.22,"v":1.28e-12},{"d":54.52,"v":9.3e-13},{"d":54.96,"v":4e-13},{"d":55.39,"v":7.7e-13},{"d":55.69,"v":1.28e-12},{"d":56.12,"v":2.6e-13},{"d":56.56,"v":1.28e-12},{"d":57,"v":4.7e-13},{"d":57.44,"v":4.3e-13},{"d":57.88,"v":1.15e-12},{"d":58.32,"v":9.3e-13},{"d":58.61,"v":4.2e-12},{"d":58.9,"v":1e-12},{"d":58.97,"v":1e-12}]
},
"layer":[
{"data":{"name":"therm"},"mark":{"type":"line","interpolate":"step-after","strokeWidth":10,"clip":true},
"encoding":{"color":{"datum":"THERM + RAD PRESS","scale":{"domain":["BENNU","SUN","OBL","SRP","ALB + IR","STOCH","THERM + RAD PRESS"],"range":["#000000","#1ee61e","#0000ff","#ff0000","#1ff0ff","#f5a3f5","#ffd460"]},
"legend":{"title":null,"orient":"none","legendX":114,"legendY":-79,"direction":"horizontal","columns":7,"symbolType":"stroke","symbolSize":2025,"symbolStrokeWidth":6,"labelFont":"Liberation Sans","labelFontSize":25,"labelColor":"#000000","labelOffset":19,"columnPadding":58,"padding":16,"strokeColor":"#000000","fillColor":"#ffffff","labelLimit":400}}}},
{"data":{"name":"srp"},"mark":{"type":"line","interpolate":"step-after","strokeWidth":10,"clip":true},
"encoding":{"color":{"datum":"SRP","scale":{"domain":["BENNU","SUN","OBL","SRP","ALB + IR","STOCH","THERM + RAD PRESS"],"range":["#000000","#1ee61e","#0000ff","#ff0000","#1ff0ff","#f5a3f5","#ffd460"]}}}},
{"data":{"name":"bennu"},"mark":{"type":"line","interpolate":"monotone","strokeWidth":5,"clip":true},
"encoding":{"color":{"datum":"BENNU","scale":{"domain":["BENNU","SUN","OBL","SRP","ALB + IR","STOCH","THERM + RAD PRESS"],"range":["#000000","#1ee61e","#0000ff","#ff0000","#1ff0ff","#f5a3f5","#ffd460"]}}}},
{"data":{"name":"sun"},"mark":{"type":"line","interpolate":"monotone","strokeWidth":5,"clip":true},
"encoding":{"color":{"datum":"SUN","scale":{"domain":["BENNU","SUN","OBL","SRP","ALB + IR","STOCH","THERM + RAD PRESS"],"range":["#000000","#1ee61e","#0000ff","#ff0000","#1ff0ff","#f5a3f5","#ffd460"]}}}},
{"data":{"values":[{"d":-0.16,"v":1e-13},{"d":59,"v":1e-13}]},"mark":{"type":"line","color":"#ff2a00","strokeWidth":5,"strokeDash":[47,19,6,19],"clip":true},"encoding":{}},
{"data":{"name":"alb"},"mark":{"type":"line","interpolate":"monotone","strokeWidth":5,"clip":true},
"encoding":{"color":{"datum":"ALB + IR","scale":{"domain":["BENNU","SUN","OBL","SRP","ALB + IR","STOCH","THERM + RAD PRESS"],"range":["#000000","#1ee61e","#0000ff","#ff0000","#1ff0ff","#f5a3f5","#ffd460"]}}}},
{"data":{"name":"stoch"},"mark":{"type":"line","interpolate":"step-after","strokeWidth":4,"clip":true},
"encoding":{"color":{"datum":"STOCH","scale":{"domain":["BENNU","SUN","OBL","SRP","ALB + IR","STOCH","THERM + RAD PRESS"],"range":["#000000","#1ee61e","#0000ff","#ff0000","#1ff0ff","#f5a3f5","#ffd460"]}}}},
{"data":{"name":"obl"},"mark":{"type":"line","interpolate":"linear","strokeWidth":4.5,"clip":true},
"encoding":{"color":{"datum":"OBL","scale":{"domain":["BENNU","SUN","OBL","SRP","ALB + IR","STOCH","THERM + RAD PRESS"],"range":["#000000","#1ee61e","#0000ff","#ff0000","#1ff0ff","#f5a3f5","#ffd460"]}}}},
{"data":{"values":[{"d":28.03,"v":4.37e-14,"label":"OD Acceleration Threshold"}]},"mark":{"type":"text","font":"Liberation Sans","fontSize":48,"color":"#ff0000","align":"center","baseline":"middle"},"encoding":{"text":{"field":"label"}}}
]
}
